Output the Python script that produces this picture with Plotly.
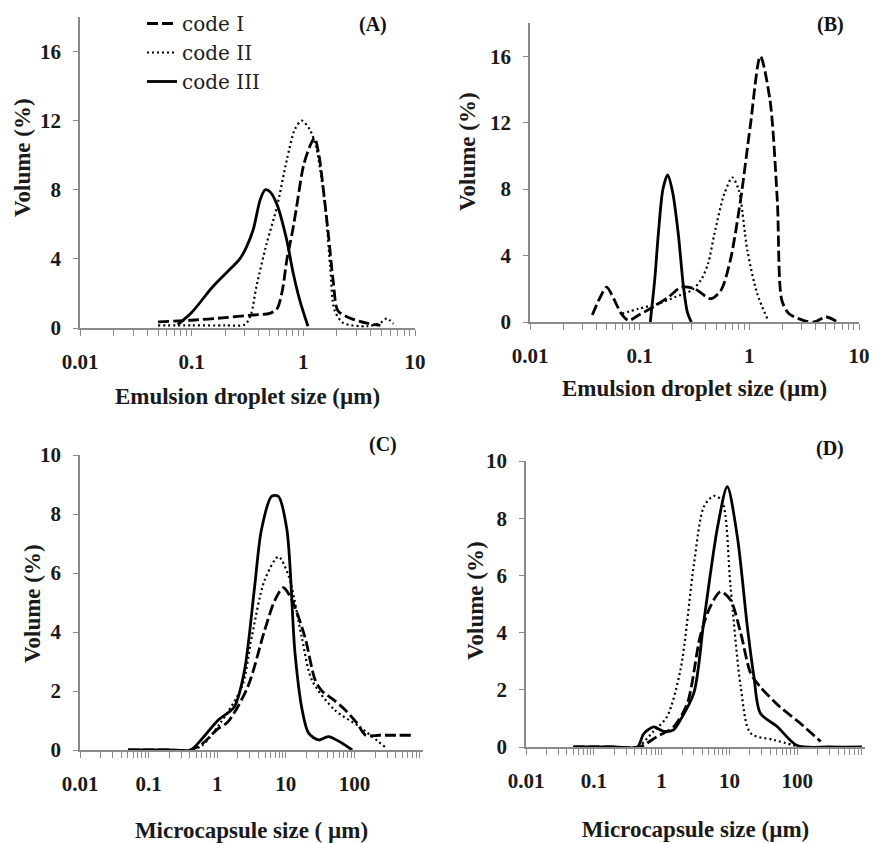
import plotly.graph_objects as go
from plotly.subplots import make_subplots

# (A) emulsion droplet size, first formulation
a1_x = [0.05, 0.1, 0.2, 0.35, 0.5, 0.58, 0.65, 0.71, 0.8, 0.87, 1.0, 1.14, 1.26, 1.38, 1.5, 1.67, 1.86, 2.04, 2.6, 3.7, 4.9]
a1_y = [0.35, 0.45, 0.6, 0.75, 0.85, 1.1, 2.2, 3.9, 5.6, 7.0, 9.35, 10.5, 11.0, 10.0, 8.2, 5.5, 2.6, 1.0, 0.58, 0.28, 0.15]
a2_x = [0.05, 0.1, 0.2, 0.3, 0.34, 0.38, 0.47, 0.58, 0.71, 0.84, 0.97, 1.14, 1.3, 1.57, 1.74, 1.9, 2.27, 3.7, 4.9, 5.6, 6.4]
a2_y = [0.15, 0.15, 0.15, 0.2, 0.8, 2.4, 4.9, 7.0, 9.7, 11.5, 12.0, 11.5, 10.5, 7.0, 3.55, 1.05, 0.3, 0.1, 0.3, 0.55, 0.25]
a3_x = [0.075, 0.1, 0.155, 0.22, 0.27, 0.31, 0.356, 0.41, 0.455, 0.5, 0.577, 0.71, 0.81, 0.93, 1.1]
a3_y = [0.2, 0.9, 2.4, 3.4, 4.0, 4.7, 5.7, 7.4, 8.0, 7.9, 7.2, 5.1, 3.2, 1.6, 0.1]

# (B) emulsion droplet size, second formulation
b1_x = [0.037, 0.043, 0.05, 0.058, 0.068, 0.079, 0.1, 0.128, 0.183, 0.24, 0.317, 0.445, 0.55, 0.67, 0.83, 1.02, 1.26, 1.54, 1.8, 1.98, 2.3, 3.1, 3.9, 5.0, 6.2]
b1_y = [0.42, 1.4, 2.1, 1.4, 0.5, 0.1, 0.45, 0.84, 1.5, 2.1, 2.0, 1.4, 1.9, 3.7, 7.3, 11.8, 16.0, 13.4, 7.3, 1.3, 0.5, 0.1, 0.0, 0.3, 0.05]
b2_x = [0.069, 0.098, 0.148, 0.21, 0.296, 0.36, 0.42, 0.48, 0.59, 0.7, 0.8, 0.96, 1.18, 1.46]
b2_y = [0.5, 0.8, 1.1, 1.5, 1.9, 2.5, 3.5, 5.3, 7.7, 8.7, 7.95, 4.3, 1.7, 0.2]
b3_x = [0.125, 0.137, 0.148, 0.163, 0.18, 0.2, 0.225, 0.25, 0.272, 0.296]
b3_y = [0.0, 2.5, 5.3, 8.0, 8.85, 7.8, 5.3, 2.2, 0.6, 0.0]

# (C) microcapsule size, first formulation
c1_x = [0.05, 0.2, 0.4, 0.6, 1.0, 1.44, 2.8, 4.9, 7.0, 9.2, 12.2, 18.9, 26.8, 33.7, 50, 74, 110, 146, 230, 400, 700]
c1_y = [0, 0, 0, 0.2, 0.7, 0.96, 2.15, 4.05, 5.1, 5.5, 5.1, 3.85, 2.37, 2.0, 1.7, 1.35, 0.9, 0.5, 0.5, 0.5, 0.5]
c2_x = [0.05, 0.2, 0.4, 0.6, 1.1, 2.3, 3.2, 4.9, 7.8, 11, 17, 24, 52, 117, 280]
c2_y = [0, 0, 0, 0.15, 0.9, 2.15, 3.85, 5.75, 6.55, 5.9, 3.85, 2.37, 1.35, 0.8, 0.1]
c3_x = [0.05, 0.2, 0.41, 0.58, 1.02, 1.78, 2.5, 3.5, 4.4, 6.2, 7.8, 10.4, 13.6, 17.3, 21.5, 30, 42, 93]
c3_y = [0, 0, 0, 0.34, 1.0, 1.47, 2.7, 5.5, 7.45, 8.6, 8.6, 7.45, 3.3, 1.36, 0.57, 0.34, 0.45, 0]

# (D) microcapsule size, second formulation
d1_x = [0.05, 0.2, 0.47, 0.85, 1.5, 2.4, 3.7, 5.2, 7.4, 10.4, 14.7, 20.6, 28.6, 56, 112, 222]
d1_y = [0, 0, 0, 0.36, 0.7, 1.53, 3.86, 4.9, 5.43, 5.14, 3.98, 2.58, 2.1, 1.4, 0.82, 0.19]
d2_x = [0.05, 0.2, 0.44, 0.76, 1.2, 1.9, 3.0, 4.2, 5.9, 7.8, 10.4, 14.7, 20.6, 45, 112]
d2_y = [0, 0, 0, 0.55, 1.06, 2.7, 6.4, 8.4, 8.78, 8.6, 5.6, 2.1, 0.48, 0.25, 0]
d3_x = [0.05, 0.2, 0.44, 0.54, 0.76, 1.07, 1.5, 1.9, 3.0, 4.2, 6.7, 9.3, 13.1, 18.4, 23, 28.6, 51, 100, 300, 900]
d3_y = [0, 0, 0, 0.45, 0.7, 0.55, 0.6, 0.95, 1.9, 4.4, 7.7, 9.1, 7.35, 4.2, 2.46, 1.18, 0.71, 0.05, 0, 0]

names = ["code I", "code II", "code III"]
panels = [
    ("(A)", [(a1_x, a1_y), (a2_x, a2_y), (a3_x, a3_y)]),
    ("(B)", [(b1_x, b1_y), (b2_x, b2_y), (b3_x, b3_y)]),
    ("(C)", [(c1_x, c1_y), (c2_x, c2_y), (c3_x, c3_y)]),
    ("(D)", [(d1_x, d1_y), (d2_x, d2_y), (d3_x, d3_y)]),
]
line_styles = [
    dict(color="black", width=2.8, dash="11px,4px"),
    dict(color="black", width=2.2, dash="2px,3px"),
    dict(color="black", width=2.8, dash="solid"),
]

fig = make_subplots(rows=2, cols=2)
for i, (label, series) in enumerate(panels):
    r, c = i // 2 + 1, i % 2 + 1
    for j, (xs, ys) in enumerate(series):
        fig.add_trace(go.Scatter(
            x=xs, y=ys, mode="lines", name=names[j],
            line=dict(shape="spline", smoothing=0.8, **line_styles[j]),
            showlegend=(i == 0)), row=r, col=c)

# the page body has an 8px margin, so the figure is placed 8px in
OFF = 8
W, H = 877 - OFF, 843 - OFF


def px_x(p):
    return (p - OFF) / W


def px_y(p):
    return 1 - (p - OFF) / H


# pixel boxes of each panel in the window: (left, right, bottom, top)
# (B's right edge kept a little in so its "10" label stays on screen)
boxes = [(80, 415, 328, 17), (530, 859, 322, 23), (80, 423, 750, 455), (526, 865, 747, 461)]
x_titles = ["Emulsion droplet size (µm)", "Emulsion droplet size (µm)",
            "Microcapsule size ( µm)", "Microcapsule size (µm)"]
y_ranges = [[0, 18], [0, 18], [0, 10], [0, 10]]
y_ticks = [[0, 4, 8, 12, 16], [0, 4, 8, 12, 16], [0, 2, 4, 6, 8, 10], [0, 2, 4, 6, 8, 10]]
x_ranges = [[-2, 1], [-2, 1], [-2, 3], [-2, 3]]
x_ticks = [[0.01, 0.1, 1, 10], [0.01, 0.1, 1, 10], [0.01, 0.1, 1, 10, 100], [0.01, 0.1, 1, 10, 100]]
x_standoff = [15, 13, 27, 29]
label_pos = [(373, 25), (830, 25), (383, 445), (830, 448)]
ytitle_pos = [(23, 158), (467, 152), (32, 604), (475, 601)]

axcol = "#8a8a8a"
tfont = dict(family="Liberation Serif", size=21, color="#1a1a1a", weight="bold")
titfont = dict(family="Liberation Serif", size=23, color="#1a1a1a", weight="bold")

for i in range(4):
    l, rgt, b, t = boxes[i]
    sfx = "" if i == 0 else str(i + 1)
    lo, hi = x_ranges[i]
    minor_vals = [m * 10 ** e for e in range(lo, hi) for m in range(2, 10)]
    fig.layout["xaxis" + sfx].update(
        domain=[px_x(l), px_x(rgt)], type="log", range=x_ranges[i], automargin=False,
        tickvals=x_ticks[i], ticktext=[str(v) for v in x_ticks[i]],
        showline=True, linecolor=axcol, linewidth=1.5, showgrid=False, zeroline=False,
        ticks="outside", ticklen=6, tickcolor=axcol, tickwidth=1.2,
        ticklabelstandoff=8, tickfont=tfont, ticklabeloverflow="allow",
        minor=dict(tickmode="array", tickvals=minor_vals, ticks="outside", ticklen=6,
                   tickcolor=axcol, tickwidth=1.2, showgrid=False),
        title=dict(text=x_titles[i], font=titfont, standoff=x_standoff[i]))
    fig.layout["yaxis" + sfx].update(
        domain=[px_y(b), px_y(t)], range=y_ranges[i], tickvals=y_ticks[i], automargin=False,
        showline=True, linecolor=axcol, linewidth=1.5, showgrid=False, zeroline=False,
        ticks="outside", ticklen=5, tickcolor=axcol, tickwidth=1.2,
        ticklabelstandoff=8, tickfont=tfont)
    lx, ly = label_pos[i]
    fig.add_annotation(text=panels[i][0], xref="paper", yref="paper",
                       x=px_x(lx), y=px_y(ly), xanchor="center", yanchor="middle",
                       showarrow=False, font=dict(family="Liberation Serif", size=20, color="#111", weight="bold"))
    tx, ty = ytitle_pos[i]
    fig.add_annotation(text="Volume (%)", xref="paper", yref="paper", textangle=-90,
                       x=px_x(tx), y=px_y(ty), xanchor="center", yanchor="middle",
                       showarrow=False, font=titfont)

fig.update_layout(
    width=W, height=H, margin=dict(l=0, r=0, t=0, b=0, autoexpand=False),
    plot_bgcolor="white", paper_bgcolor="white",
    legend=dict(x=px_x(142), y=px_y(4), xanchor="left", yanchor="top",
                font=dict(family="DejaVu Serif", size=20, color="#222"),
                bgcolor="rgba(0,0,0,0)", itemwidth=30, tracegroupgap=0),
)
fig.write_html("out.html")
